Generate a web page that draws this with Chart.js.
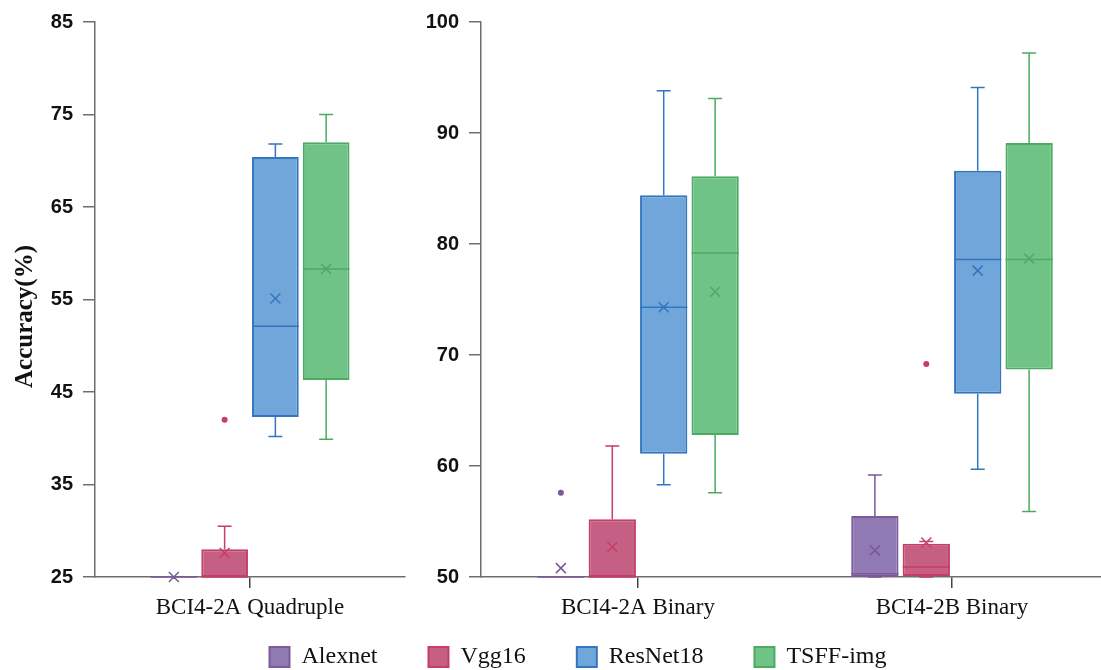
<!DOCTYPE html>
<html>
<head>
<meta charset="utf-8">
<script src="https://cdn.jsdelivr.net/npm/chart.js@4.4.1/dist/chart.umd.min.js"></script>
<style>
  html, body { margin: 0; padding: 0; background: #fff; overflow: hidden; width: 1101px; height: 670px; }
  #wrap { position: relative; width: 1101px; height: 670px; overflow: hidden; }
  canvas { position: absolute; left: 0; top: 0; }
  #legendChart { top: 594px; }
</style>
</head>
<body>
<div id="wrap">
  <canvas id="leftChart" width="420" height="670"></canvas>
  <canvas id="rightChart" width="1110" height="670"></canvas>
  <canvas id="legendChart" width="1101" height="160"></canvas>
</div>
<script>
// categories
const groupsLeft = ['BCI4-2A Quadruple'];
const groupsRight = ['BCI4-2A Binary', 'BCI4-2B Binary'];
const models = ['Alexnet', 'Vgg16', 'ResNet18', 'TSFF-img'];

// y tick labels
const leftTicks = [25, 35, 45, 55, 65, 75, 85];
const rightTicks = [50, 60, 70, 80, 90, 100];

// box stats, one row per model: [Quadruple, 2A Binary, 2B Binary]
const lowWhisker = [
  [25, 50, 50],
  [25, 50, 50],
  [40.2, 58.3, 59.7],
  [39.9, 57.6, 55.9]
];
const q1 = [
  [25, 50, 50],
  [25, 50, 50.1],
  [42.3, 61.1, 66.5],
  [46.3, 62.8, 68.7]
];
const median = [
  [25, 50, 50.3],
  [25, 50, 50.9],
  [52.1, 74.3, 78.6],
  [58.3, 79.2, 78.6]
];
const q3 = [
  [25, 50, 55.5],
  [28.0, 55.2, 53.0],
  [70.4, 84.4, 86.6],
  [72.0, 86.1, 89.1]
];
const highWhisker = [
  [25, 50, 59.2],
  [30.5, 61.8, 53.2],
  [71.8, 93.8, 94.1],
  [75.0, 93.1, 97.2]
];
const mean = [
  [25, 50.8, 52.4],
  [27.6, 52.7, 53.1],
  [55.1, 74.3, 77.6],
  [58.3, 75.7, 78.7]
];
const outliers = [
  [[], [57.6], []],
  [[42.0], [], [69.2]],
  [[], [], []],
  [[], [], []]
];

const fills = ['#8f7ab4', '#c55f84', '#70a6d9', '#70c386'];
const strokes = ['#7b5a97', '#c63d68', '#3276c0', '#4caa63'];

const serif = "'Liberation Serif', 'Times New Roman', serif";
const sans = "'Liberation Sans', Arial, sans-serif";

// whiskers, median, mean and outliers on top of the floating bars
const boxPlugin = {
  id: 'boxWhiskers',
  afterDatasetsDraw(chart, args, opts) {
    const ctx = chart.ctx;
    const ys = chart.scales.y;
    const off = opts.offset || 0;
    const py = v => ys.getPixelForValue(v);
    chart.data.datasets.forEach((ds, i) => {
      const meta = chart.getDatasetMeta(i);
      meta.data.forEach((bar, j) => {
        const k = j + off;
        const x = bar.x;
        const half = bar.width / 2;
        ctx.save();
        ctx.strokeStyle = strokes[i];
        ctx.fillStyle = strokes[i];
        ctx.lineWidth = 1.5;
        ctx.beginPath();
        ctx.moveTo(x, py(q3[i][k]));
        ctx.lineTo(x, py(highWhisker[i][k]));
        ctx.moveTo(x - 7, py(highWhisker[i][k]));
        ctx.lineTo(x + 7, py(highWhisker[i][k]));
        ctx.moveTo(x, py(q1[i][k]));
        ctx.lineTo(x, py(lowWhisker[i][k]));
        ctx.moveTo(x - 7, py(lowWhisker[i][k]));
        ctx.lineTo(x + 7, py(lowWhisker[i][k]));
        ctx.moveTo(x - half, py(median[i][k]));
        ctx.lineTo(x + half, py(median[i][k]));
        const my = py(mean[i][k]);
        ctx.moveTo(x - 5, my - 5);
        ctx.lineTo(x + 5, my + 5);
        ctx.moveTo(x - 5, my + 5);
        ctx.lineTo(x + 5, my - 5);
        ctx.stroke();
        outliers[i][k].forEach(v => {
          ctx.beginPath();
          ctx.arc(x, py(v), 3, 0, Math.PI * 2);
          ctx.fill();
        });
        ctx.restore();
      });
    });
  }
};

// rotated y title, sits a bit below the middle of the axis like the original
const yTitlePlugin = {
  id: 'yTitle',
  afterDraw(chart, args, opts) {
    const { ctx, chartArea } = chart;
    ctx.save();
    ctx.translate(opts.x, (chartArea.top + chartArea.bottom) / 2 + opts.shift);
    ctx.rotate(-Math.PI / 2);
    ctx.font = 'bold 25px ' + serif;
    ctx.fillStyle = '#111';
    ctx.textAlign = 'center';
    ctx.textBaseline = 'middle';
    ctx.fillText(opts.text, 0, 0);
    ctx.restore();
  }
};

function makeDatasets(nGroups, off) {
  return models.map((m, i) => ({
    label: m,
    data: Array.from({ length: nGroups }, (_, j) => [q1[i][j + off], q3[i][j + off]]),
    backgroundColor: fills[i],
    borderColor: strokes[i],
    borderWidth: 2,
    borderSkipped: false,
    barPercentage: 0.92,
    categoryPercentage: 0.655
  }));
}

function xScale() {
  return {
    grid: { drawOnChartArea: false, offset: false, tickLength: 11, color: '#444', lineWidth: 1.5 },
    border: { color: '#6e6e6e', width: 1.5 },
    ticks: { font: { family: serif, size: 23 }, color: '#111', padding: 6 },
    afterFit: s => { s.height = 93; }
  };
}

function yScale(ticks, w) {
  return {
    min: ticks[0],
    max: ticks[ticks.length - 1],
    grid: { drawOnChartArea: false, tickLength: 12, color: '#6e6e6e', lineWidth: 1.5 },
    border: { color: '#6e6e6e', width: 1.5 },
    ticks: { stepSize: ticks[1] - ticks[0], font: { family: sans, size: 20, weight: 'bold' }, color: '#111', padding: 10 },
    afterFit: s => { s.width = w; }
  };
}

new Chart(document.getElementById('leftChart'), {
  type: 'bar',
  data: { labels: groupsLeft, datasets: makeDatasets(1, 0) },
  options: {
    responsive: false,
    animation: false,
    layout: { padding: { top: 17, right: 15, left: 0, bottom: 0 } },
    plugins: {
      legend: { display: false },
      tooltip: { enabled: false },
      boxWhiskers: { offset: 0 },
      yTitle: { text: 'Accuracy(%)', x: 26, shift: 17 }
    },
    scales: { x: xScale(), y: yScale(leftTicks, 95) }
  },
  plugins: [boxPlugin, yTitlePlugin]
});

new Chart(document.getElementById('rightChart'), {
  type: 'bar',
  data: { labels: groupsRight, datasets: makeDatasets(2, 1) },
  options: {
    responsive: false,
    animation: false,
    layout: { padding: { top: 19, right: 1, left: 47, bottom: 0 } },
    plugins: { legend: { display: false }, tooltip: { enabled: false }, boxWhiskers: { offset: 1 } },
    scales: { x: xScale(), y: yScale(rightTicks, 434) }
  },
  plugins: [boxPlugin]
});

// shared legend along the bottom
new Chart(document.getElementById('legendChart'), {
  type: 'bar',
  data: { labels: [], datasets: makeDatasets(0, 0) },
  options: {
    responsive: false,
    animation: false,
    layout: { padding: { left: 55 } },
    scales: { x: { display: false }, y: { display: false } },
    plugins: {
      tooltip: { enabled: false },
      legend: {
        position: 'top',
        labels: { font: { family: serif, size: 24 }, color: '#111', boxWidth: 20, boxHeight: 20, padding: 51 }
      }
    }
  }
});
</script>
</body>
</html>
